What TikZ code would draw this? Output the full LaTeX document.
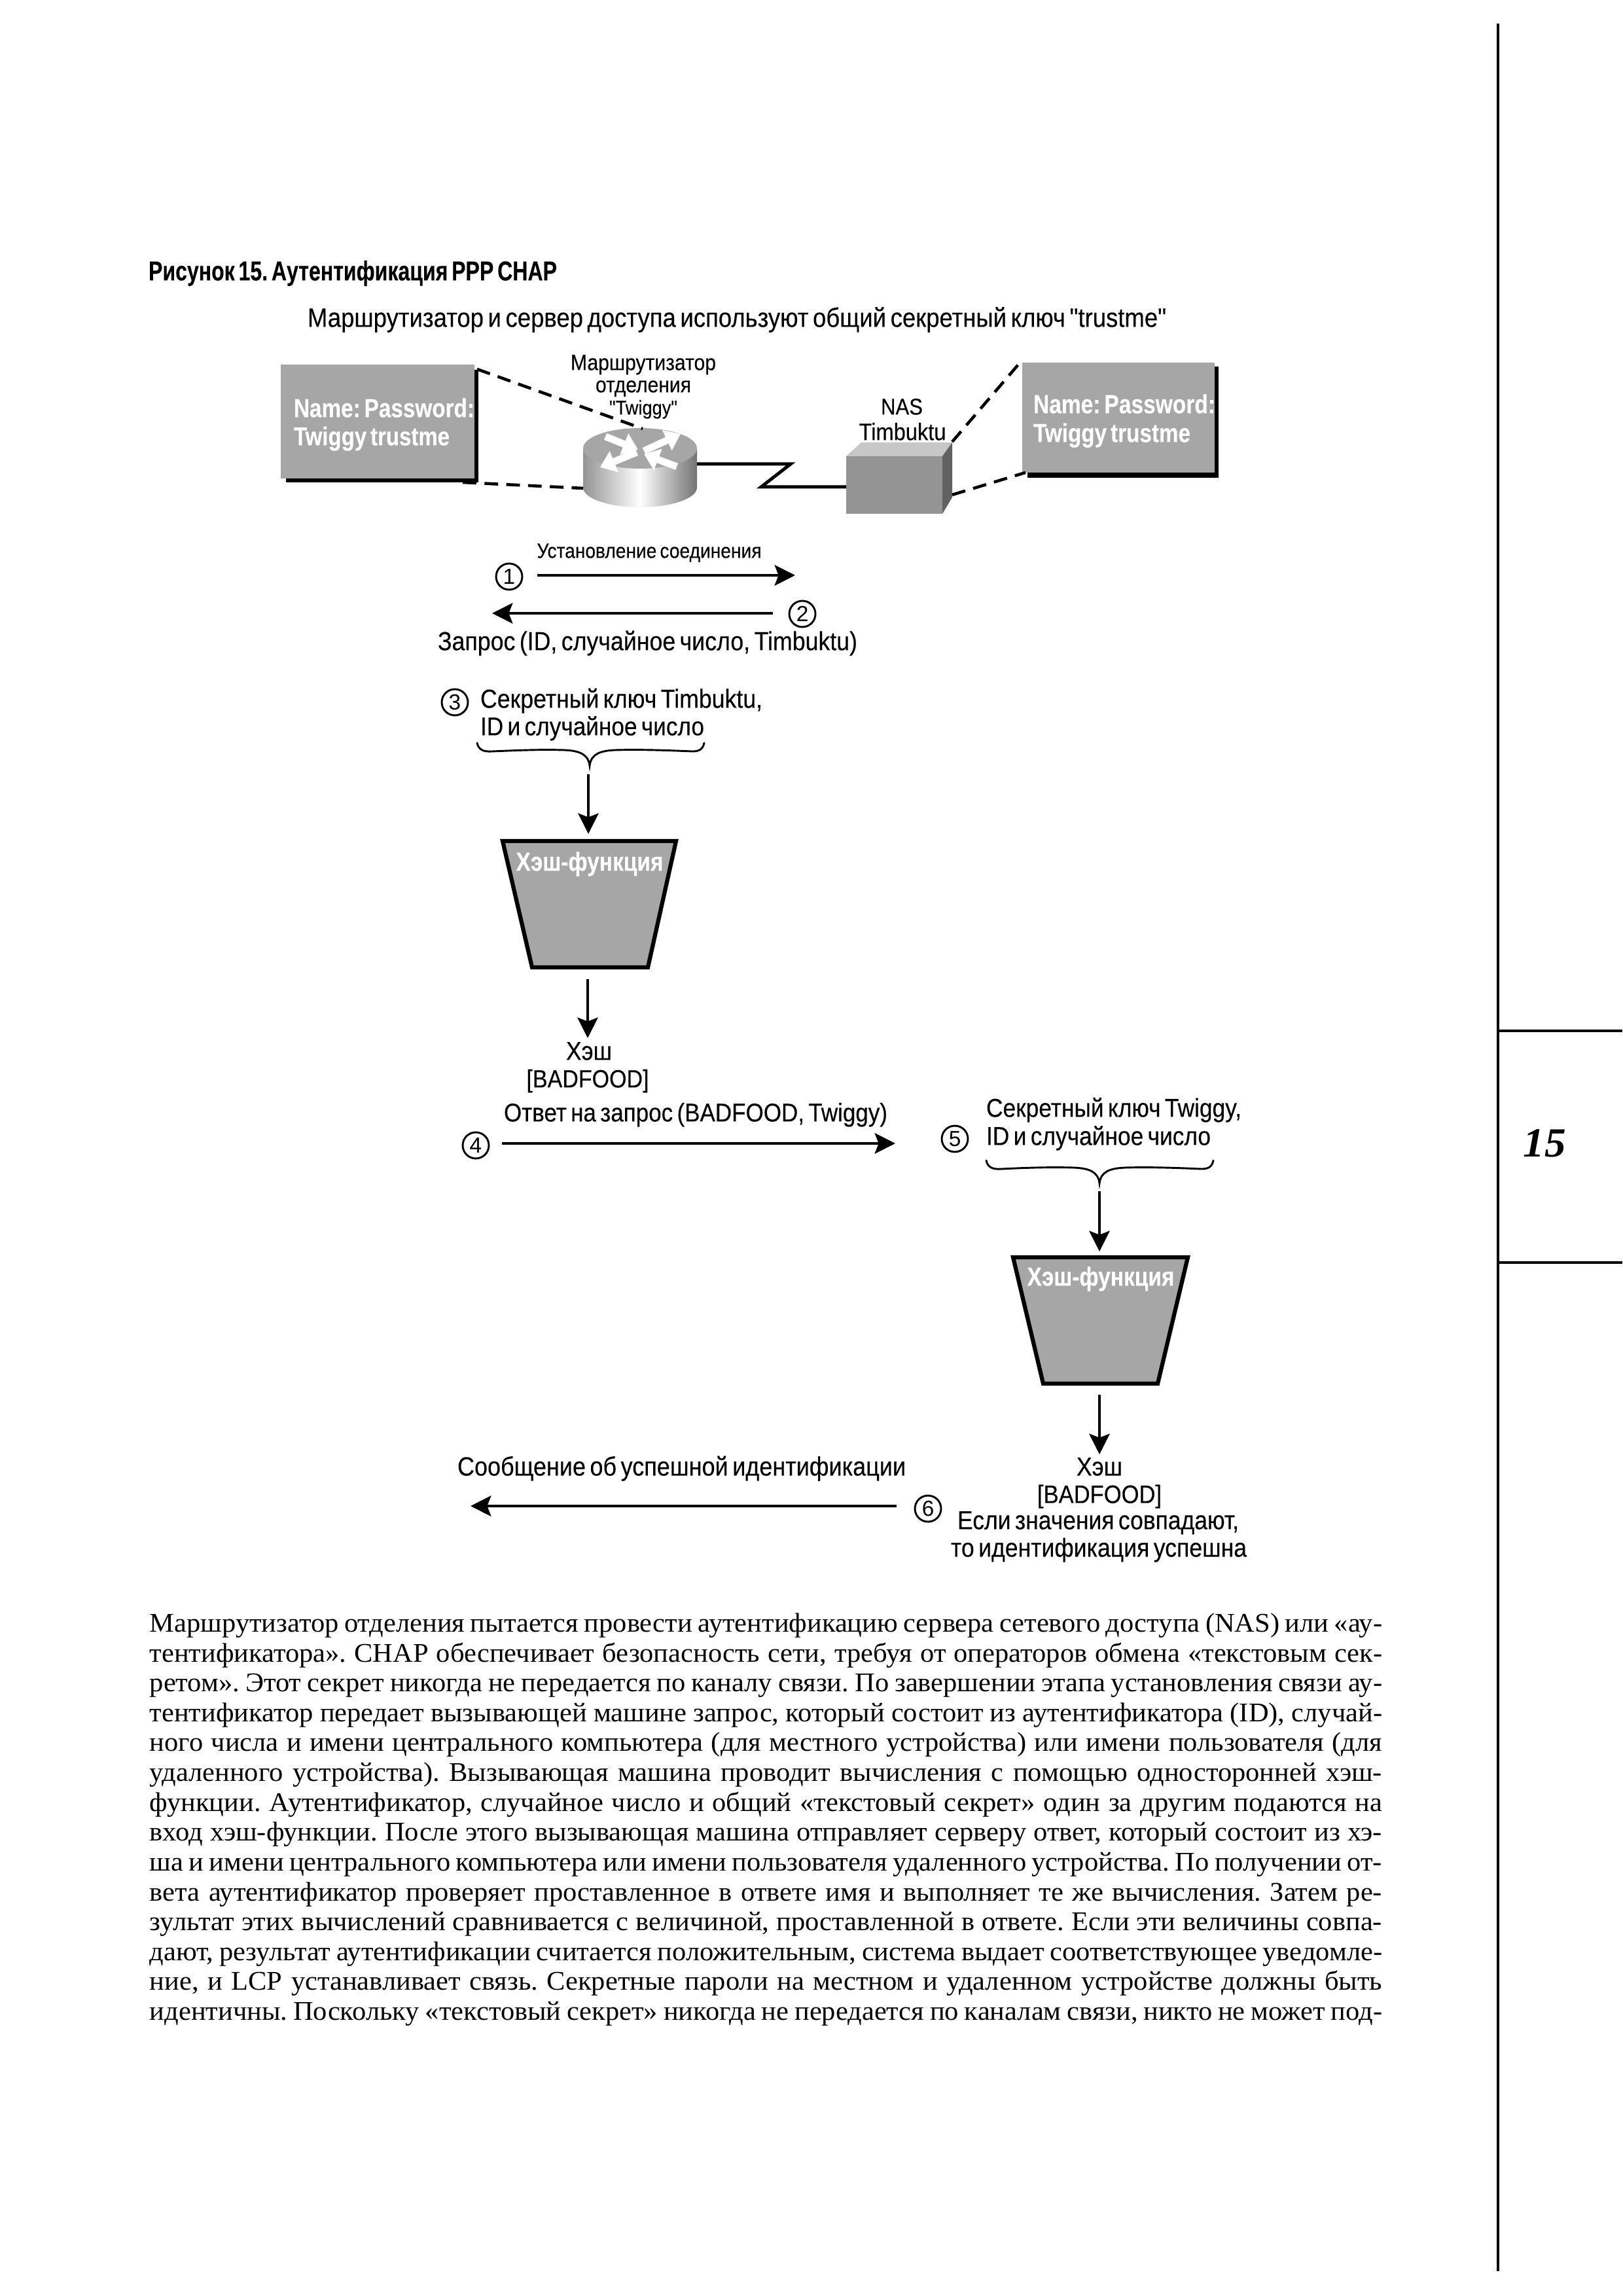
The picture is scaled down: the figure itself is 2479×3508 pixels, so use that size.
\documentclass[tikz,border=0pt]{standalone}
\usepackage{fontspec}
\usepackage{graphicx}
\setmainfont[FakeStretch=1.03,WordSpace=0.8]{Liberation Serif}
\newfontfamily\lsans[WordSpace=0.65,FakeBold=0.2]{Liberation Sans}
\newfontfamily\numfont{Liberation Sans}
\usetikzlibrary{arrows.meta}
\newcommand\fit[3][1.12]{\scalebox{1}[#1]{\resizebox{\dimexpr 0.24pt*#2\relax}{!}{#3}}}
\newcommand\bl[1]{\makebox[\bodyw][s]{#1}\\}
\newlength\bodyw
\setlength\bodyw{452pt}
\frenchspacing
\definecolor{boxgray}{HTML}{A6A6A6}
\tikzset{
  lbl/.style={inner sep=0pt,outer sep=0pt,yshift=-0.45pt,font=\lsans\fontsize{8}{9.6}\selectfont,text=black},
  lblw/.style={lbl,anchor=mid west},
  lblc/.style={lbl,anchor=mid},
  wlbl/.style={lbl,text=white,font=\lsans\bfseries\fontsize{8}{9.6}\selectfont,anchor=mid west},
  num/.style={circle,draw=black,line width=0.7pt,minimum size=9.6pt,inner sep=0pt,font=\numfont\fontsize{8}{8}\selectfont},
  arr/.style={draw=black,line width=1.15pt,-{Stealth[length=7.5pt,width=7.5pt,inset=1.4pt]}},
  brace/.style={draw=black,line width=0.7pt,line cap=round},
  dash1/.style={draw=black,line width=1.1pt,dash pattern=on 5pt off 3pt},
  hash/.style={draw=black,fill=boxgray,line width=1.5pt,miter limit=10},
  rar/.style={draw=white,line width=2.6pt,-{Triangle[length=5.5pt,width=8pt]}},
  rule/.style={draw=black,line width=1.05pt},
}
\begin{document}
\begin{tikzpicture}[x=0.24pt,y=-0.24pt]
\useasboundingbox (0,0) rectangle (2479,3508);
% side rules
\coordinate (rt) at (2289,36); \coordinate (rb) at (2289,3470);
\coordinate (h1a) at (2289,1575); \coordinate (h1b) at (2479,1575);
\coordinate (h2a) at (2289,1929); \coordinate (h2b) at (2479,1929);
\draw[rule] (rt) -- (rb);
\draw[rule] (h1a) -- (h1b);
\draw[rule] (h2a) -- (h2b);
\node[inner sep=0pt,anchor=center,font=\bfseries\itshape\fontsize{15.2}{18}\selectfont] (chap) at (2360,1747) {15};
% heading
\node[lblw,font=\lsans\bfseries\fontsize{8}{9.6}\selectfont] (head) at (227,417) {\fit[1.3]{624}{Рисунок 15. Аутентификация PPP CHAP}};
\node[lblw] (top) at (470,488) {\fit{1312}{Маршрутизатор и сервер доступа используют общий секретный ключ "trustme"}};
% left table
\fill[black] (437,565) rectangle (731,737);
\fill[boxgray] (429,557) rectangle (725,731);
\node[wlbl] (ln1) at (449,626) {\fit[1.2]{276}{Name: Password:}};
\node[wlbl] (ln2) at (449,669) {\fit[1.2]{238}{Twiggy trustme}};
% right table
\fill[black] (1570,560) rectangle (1862,730);
\fill[boxgray] (1562,554) rectangle (1856,722);
\node[wlbl] (rn1) at (1579,620) {\fit[1.2]{278}{Name: Password:}};
\node[wlbl] (rn2) at (1579,664) {\fit[1.2]{240}{Twiggy trustme}};
% router
\shade[left color=black!42,right color=black!55,middle color=white] (891,685) -- (891,745) arc[start angle=180,end angle=0,x radius=87,y radius=30] -- (1065,685) -- cycle;
\fill[boxgray] (978,685) ellipse[x radius=87,y radius=31];
\coordinate (ra1) at (925,667); \coordinate (ra2) at (975,687);
\coordinate (rb1) at (984,689); \coordinate (rb2) at (1040,663);
\coordinate (rc1) at (973,691); \coordinate (rc2) at (917,714);
\coordinate (rd1) at (1034,713); \coordinate (rd2) at (984,694);
\draw[rar] (ra1) -- (ra2);
\draw[rar] (rb1) -- (rb2);
\draw[rar] (rc1) -- (rc2);
\draw[rar] (rd1) -- (rd2);
% NAS
\fill[black!22] (1293,697) -- (1316,676) -- (1455,676) -- (1440,697) -- cycle;
\fill[black!42] (1293,697) rectangle (1440,785);
\fill[black!62] (1440,697) -- (1455,676) -- (1455,760) -- (1440,785) -- cycle;
% zigzag link
\coordinate (z0) at (1065,709); \coordinate (z1) at (1208,709);
\coordinate (z2) at (1163,744); \coordinate (z3) at (1293,744);
\draw[draw=black,line width=1.2pt,miter limit=10] (z0) -- (z1) -- (z2) -- (z3);
% dashed
\coordinate (d1a) at (729,564); \coordinate (d1b) at (982,655);
\coordinate (d2a) at (707,737); \coordinate (d2b) at (891,746);
\coordinate (d3a) at (1455,675); \coordinate (d3b) at (1562,550);
\coordinate (d4a) at (1455,756); \coordinate (d4b) at (1567,722);
\draw[dash1] (d1a) -- (d1b);
\draw[dash1] (d2a) -- (d2b);
\draw[dash1] (d3a) -- (d3b);
\draw[dash1] (d4a) -- (d4b);
% device labels
\node[lblc] (m1) at (983,554) {\fit{222}{Маршрутизатор}};
\node[lblc] (m2) at (983,588) {\fit{146}{отделения}};
\node[lblc] (m3) at (983,622) {\fit{104}{"Twiggy"}};
\node[lblc] (n1) at (1378,622) {\fit{64}{NAS}};
\node[lblc] (n2) at (1379,661) {\fit{133}{Timbuktu}};
% steps 1,2
\node[lblc] (est) at (992,841) {\fit{343}{Установление соединения}};
\node[num] (c1) at (778,881) {1};
\coordinate (a1e) at (1215,879);
\draw[arr] (c1.east) ++(22,-2) coordinate (a1s) (a1s) -- (a1e);
\node[num] (c2) at (1226,938) {2};
\coordinate (a2e) at (752,937);
\draw[arr] (c2.west) ++(-24,-1) coordinate (a2s) (a2s) -- (a2e);
\node[lblw] (req) at (669,982) {\fit{641}{Запрос (ID, случайное число, Timbuktu)}};
% step 3
\node[num] (c3) at (695,1073) {3};
\node[lblw] (s3a) at (734,1070) {\fit{431}{Секретный ключ Timbuktu,}};
\node[lblw] (s3b) at (734,1112) {\fit{342}{ID и случайное число}};
\draw[brace] (729,1135) .. controls (731,1145) and (738,1149) .. (752,1148) .. controls (800,1146) and (830,1145) .. (862,1146) .. controls (885,1147) and (899,1152) .. (901,1170) .. controls (903,1152) and (917,1147) .. (940,1146) .. controls (975,1145) and (1010,1146) .. (1058,1148) .. controls (1068,1148) and (1074,1145) .. (1076,1135);
\coordinate (t1) at (899,1183); \coordinate (t2) at (899,1274);
\draw[arr] (t1) -- (t2);
\draw[hash] (768,1285) -- (1033,1285) -- (990,1478) -- (813,1478) -- cycle;
\node[wlbl,anchor=mid] (hf1) at (901,1319) {\fit[1.2]{225}{Хэш-функция}};
\coordinate (t3) at (898,1496); \coordinate (t4) at (898,1586);
\draw[arr] (t3) -- (t4);
\node[lblc] (h1) at (900,1608) {\fit{70}{Хэш}};
\node[lblc] (h2) at (898,1650) {\fit{187}{[BADFOOD]}};
% step 4
\node[lblw] (ans) at (770,1702) {\fit{586}{Ответ на запрос (BADFOOD, Twiggy)}};
\node[num] (c4) at (727,1750) {4};
\coordinate (a4s) at (767,1747); \coordinate (a4e) at (1368,1747);
\draw[arr] (a4s) -- (a4e);
% step 5
\begin{scope}[shift={(-4,0)}]
\node[num] (c5) at (1463,1740) {5};
\node[lblw] (s5a) at (1511,1695) {\fit{390}{Секретный ключ Twiggy,}};
\node[lblw] (s5b) at (1511,1738) {\fit{343}{ID и случайное число}};
\draw[brace] (1511,1773) .. controls (1513,1783) and (1520,1787) .. (1534,1786) .. controls (1575,1784) and (1610,1783) .. (1645,1784) .. controls (1668,1785) and (1682,1790) .. (1684,1808) .. controls (1686,1790) and (1700,1785) .. (1723,1784) .. controls (1758,1783) and (1795,1784) .. (1840,1786) .. controls (1850,1786) and (1856,1783) .. (1858,1773);
\coordinate (u1) at (1684,1820); \coordinate (u2) at (1684,1912);
\draw[arr] (u1) -- (u2);
\draw[hash] (1552,1921) -- (1819,1921) -- (1773,2114) -- (1598,2114) -- cycle;
\node[wlbl,anchor=mid] (hf2) at (1686,1953) {\fit[1.2]{225}{Хэш-функция}};
\coordinate (u3) at (1684,2131); \coordinate (u4) at (1684,2222);
\draw[arr] (u3) -- (u4);
\node[lblc] (h3) at (1684,2243) {\fit{70}{Хэш}};
\node[lblc] (h4) at (1684,2285) {\fit{190}{[BADFOOD]}};
\node[lblc] (eq1) at (1682,2325) {\fit{430}{Если значения совпадают,}};
\node[lblc] (eq2) at (1683,2367) {\fit{452}{то идентификация успешна}};
\end{scope}
% step 6
\node[lblw] (ok) at (699,2243) {\fit{685}{Сообщение об успешной идентификации}};
\node[num] (c6) at (1418,2305) {6};
\coordinate (a6s) at (1370,2301); \coordinate (a6e) at (719,2301);
\draw[arr] (a6s) -- (a6e);
% body text
\node[anchor=north west,inner sep=0pt,align=left,font=\fontsize{9.9}{10.95}\selectfont] (body) at (228,2464) {%
\bl{Маршрутизатор отделения пытается провести аутентификацию сервера сетевого доступа (NAS) или «ау-}
\bl{тентификатора». CHAP обеспечивает безопасность сети, требуя от операторов обмена «текстовым сек-}
\bl{ретом». Этот секрет никогда не передается по каналу связи. По завершении этапа установления связи ау-}
\bl{тентификатор передает вызывающей машине запрос, который состоит из аутентификатора (ID), случай-}
\bl{ного числа и имени центрального компьютера (для местного устройства) или имени пользователя (для}
\bl{удаленного устройства). Вызывающая машина проводит вычисления с помощью односторонней хэш-}
\bl{функции. Аутентификатор, случайное число и общий «текстовый секрет» один за другим подаются на}
\bl{вход хэш-функции. После этого вызывающая машина отправляет серверу ответ, который состоит из хэ-}
\bl{ша и имени центрального компьютера или имени пользователя удаленного устройства. По получении от-}
\bl{вета аутентификатор проверяет проставленное в ответе имя и выполняет те же вычисления. Затем ре-}
\bl{зультат этих вычислений сравнивается с величиной, проставленной в ответе. Если эти величины совпа-}
\bl{дают, результат аутентификации считается положительным, система выдает соответствующее уведомле-}
\bl{ние, и LCP устанавливает связь. Секретные пароли на местном и удаленном устройстве должны быть}
\makebox[\bodyw][s]{идентичны. Поскольку «текстовый секрет» никогда не передается по каналам связи, никто не может под-}};
\end{tikzpicture}
\end{document}
